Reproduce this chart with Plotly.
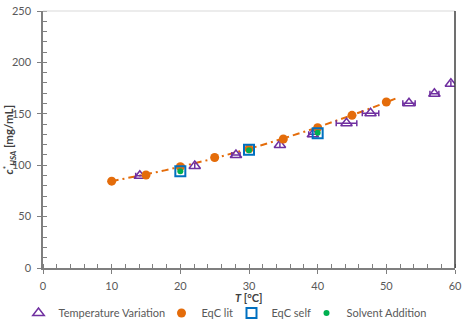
import numpy as np
import plotly.graph_objects as go

# Temperature Variation (open triangles, horizontal error bars)
tv_T = [14.1, 22.1, 28.1, 34.5, 39.3, 44.2, 47.7, 53.3, 57.0, 59.4]
tv_c = [89.8, 99.2, 110.0, 119.6, 130.0, 140.8, 150.5, 160.2, 169.5, 179.3]
tv_err = [0.6, 0.0, 0.6, 0.0, 0.6, 1.5, 1.2, 0.9, 0.65, 0.0]

# EqC lit (orange circles)
lit_T = [10, 15, 20, 25, 30, 35, 40, 45, 50]
lit_c = [84.5, 90.5, 98.5, 107.5, 116.0, 125.5, 136.5, 148.5, 161.5]

# EqC self (blue open squares)
self_T = [20, 30, 40]
self_c = [94.0, 115.0, 131.0]

# Solvent Addition (green dots)
sa_T = [20, 30, 40]
sa_c = [94.0, 114.5, 131.5]

GREY = "#595959"
FONT = "Lato"
W, H = 462, 322
L, R, T, B = 43, 7, 11, 54
PW, PH = W - L - R, H - T - B

fig = go.Figure()

# polynomial trend line of EqC lit (dash-dot)
coef = np.polyfit(lit_T, lit_c, 2)
xt = np.linspace(10, 51.5, 60)
fig.add_trace(go.Scatter(x=xt, y=np.polyval(coef, xt), mode="lines",
                         line=dict(color="#E46C0A", width=2, dash="7px,4px,2px,4px"),
                         showlegend=False, hoverinfo="skip"))

fig.add_trace(go.Scatter(x=tv_T, y=tv_c, mode="markers", name="Temperature Variation",
                         legend="legend",
                         marker=dict(symbol="triangle-up-open", size=10, color="#7030A0",
                                     line=dict(width=1.5, color="#7030A0")),
                         error_x=dict(type="data", array=tv_err, color="#7030A0",
                                      thickness=1.5, width=3)))
fig.add_trace(go.Scatter(x=lit_T, y=lit_c, mode="markers", name="EqC lit",
                         legend="legend2",
                         marker=dict(symbol="circle", size=9, color="#E46C0A")))
fig.add_trace(go.Scatter(x=self_T, y=self_c, mode="markers", name="EqC self",
                         legend="legend3",
                         marker=dict(symbol="square-open", size=10, color="#0070C0",
                                     line=dict(width=2, color="#0070C0"))))
fig.add_trace(go.Scatter(x=sa_T, y=sa_c, mode="markers", name="Solvent Addition",
                         legend="legend4",
                         marker=dict(symbol="circle", size=6, color="#00B050")))


def leg(left_px):
    return dict(orientation="h", x=left_px / W, xanchor="left", xref="container",
                y=(H - 313) / H, yanchor="middle", yref="container",
                font=dict(size=11, color=GREY, family=FONT), itemwidth=30,
                bgcolor="rgba(0,0,0,0)", borderwidth=0)


fig.update_layout(
    width=W, height=H,
    margin=dict(l=L, r=R, t=T, b=B, autoexpand=False),
    paper_bgcolor="white", plot_bgcolor="white",
    font=dict(family=FONT, size=11, color=GREY),
    showlegend=True,
    legend=leg(18.5), legend2=leg(161.5), legend3=leg(231.5), legend4=leg(306.5),
    xaxis=dict(range=[0, 60], dtick=10, tick0=0, showgrid=False, zeroline=False,
               showline=True, linecolor="#7F7F7F", linewidth=1.5,
               ticks="outside", ticklen=4, tickcolor="#7F7F7F", tickwidth=1,
               ticklabelstandoff=3,
               minor=dict(dtick=2, ticks="inside", ticklen=4, tickcolor="#7F7F7F", showgrid=False),
               tickfont=dict(size=11, color=GREY)),
    yaxis=dict(range=[0, 250], dtick=50, tick0=0, showgrid=False, zeroline=False,
               showline=True, linecolor="#7F7F7F", linewidth=1.5,
               ticks="outside", ticklen=4, tickcolor="#7F7F7F", tickwidth=1,
               ticklabelstandoff=4,
               minor=dict(dtick=10, ticks="inside", ticklen=4, tickcolor="#7F7F7F", showgrid=False),
               tickfont=dict(size=11, color=GREY)),
    annotations=[
        dict(text="<b><i>T</i> [°C]</b>", xref="x domain", yref="paper", x=0.5,
             y=(H - B - 297) / PH, xanchor="center", yanchor="middle",
             showarrow=False, font=dict(size=11, color="#404040")),
        dict(text="<b><i>c</i><sup>*</sup><sub><i>HSA</i></sub> [mg/mL]</b>",
             xref="paper", yref="y domain", x=(9 - L) / PW, y=0.5, textangle=-90,
             xanchor="center", yanchor="middle", showarrow=False,
             font=dict(size=11.5, color="#404040")),
    ],
    shapes=[
        dict(type="line", xref="x domain", yref="y domain", x0=0, x1=1, y0=1, y1=1,
             line=dict(color="#D9D9D9", width=1)),
        dict(type="line", xref="x domain", yref="y domain", x0=1, x1=1, y0=0, y1=1,
             line=dict(color="#404040", width=1.5)),
    ],
)

fig.write_html("out.html")
